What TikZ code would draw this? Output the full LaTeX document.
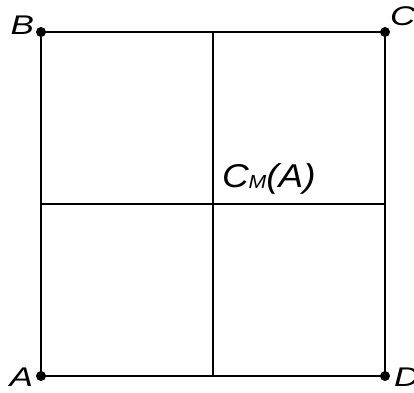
\documentclass[tikz,border=0pt]{standalone}
\usepackage{graphicx}
\usepackage{fontspec}
\setmainfont{Liberation Sans}
\usetikzlibrary{calc,positioning}
\newcommand{\widetxt}[2][1.3]{\scalebox{#1}[1]{#2}}

\begin{document}
\begin{tikzpicture}[x=1pt,y=-1pt,line width=2pt,
  font=\fontsize{27}{27}\selectfont\itshape,
  dot/.style={circle,fill,inner sep=0pt,minimum size=10pt},
  lab/.style={inner sep=0pt}]
\useasboundingbox (0,0) rectangle (414,392);
% corners
\node[dot] (A) at (41,376) {};
\node[dot] (B) at (41,32) {};
\node[dot] (C) at (385,32) {};
\node[dot] (D) at (385,376) {};
\draw (A.center) -- (B.center) -- (C.center) -- (D.center) -- cycle;
% the two halving lines
\coordinate (top) at ($(B)!0.5!(C)$);
\coordinate (bot) at ($(A)!0.5!(D)$);
\coordinate (lft) at ($(A)!0.5!(B)$);
\coordinate (rgt) at ($(D)!0.5!(C)$);
\coordinate (mid) at ($(A)!0.5!(C)$);
\draw (top) -- (bot);
\draw (lft) -- (rgt);
% labels
\node[lab,anchor=base east] (labB) at ([xshift=-6pt,yshift=-2pt]B) {\widetxt{B}};
\node[lab,anchor=base west] (labC) at ([xshift=4pt,yshift=7pt]C) {\widetxt{C}};
\node[lab,anchor=base east] (labA) at ([xshift=-7pt,yshift=-10pt]A) {\widetxt{A}};
\node[lab,anchor=base west] (labD) at ([xshift=8pt,yshift=-10pt]D) {\widetxt{D}};
\node[lab,anchor=base west,font=\fontsize{33}{33}\selectfont\itshape] (labM) at ([xshift=8pt,yshift=17pt]mid)
  {\widetxt[1.12]{C\raisebox{-1pt}{\fontsize{19}{19}\selectfont M}(A)}};
\end{tikzpicture}
\end{document}
